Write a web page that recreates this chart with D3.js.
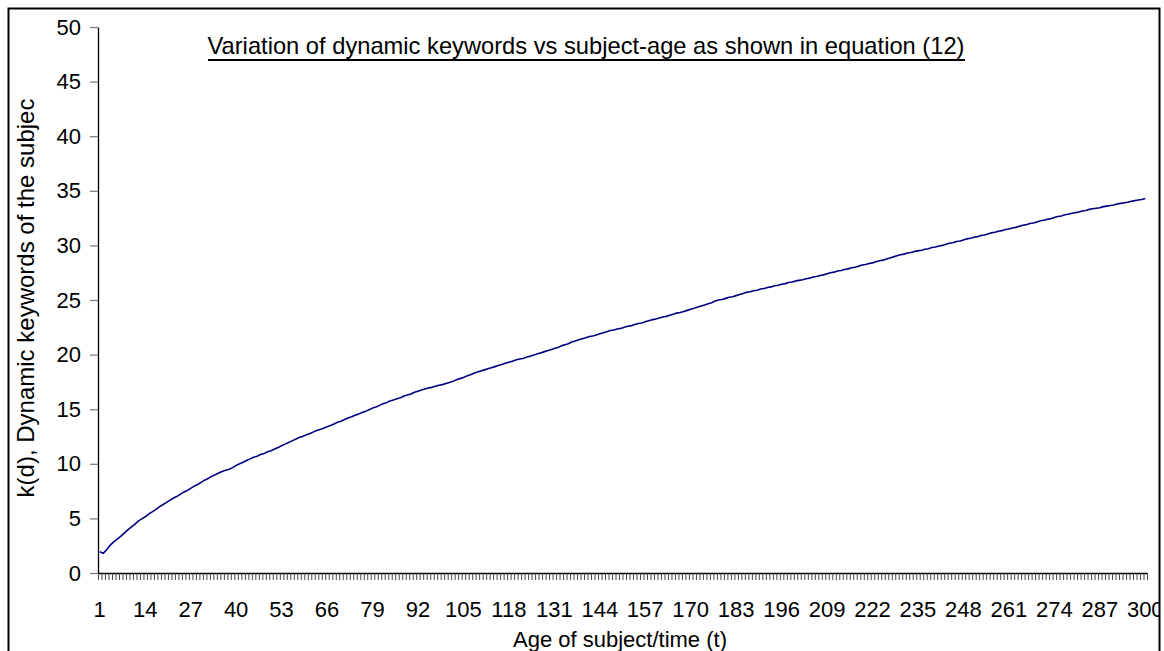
<!DOCTYPE html>
<html>
<head>
<meta charset="utf-8">
<script src="https://cdn.jsdelivr.net/npm/d3@7/dist/d3.min.js"></script>
<style>
  html, body { margin: 0; padding: 0; background: #fff; }
  svg { display: block; font-family: "Liberation Sans", Arial, sans-serif; }
</style>
</head>
<body>
<script>
// ---- data ----
const categories = d3.range(1, 301); // age of subject / time t = 1..300
const keywords = [
  1.95, 1.80, 2.15, 2.55, 2.85, 3.10, 3.35, 3.65, 3.95, 4.20,
  4.45, 4.75, 4.95, 5.15, 5.40, 5.60, 5.80, 6.05, 6.25, 6.45,
  6.65, 6.85, 7.00, 7.20, 7.40, 7.55, 7.75, 7.95, 8.10, 8.30,
  8.50, 8.65, 8.85, 9.00, 9.15, 9.30, 9.40, 9.50, 9.65, 9.85,
  10.00, 10.15, 10.30, 10.45, 10.60, 10.70, 10.85, 10.95, 11.10, 11.20,
  11.35, 11.50, 11.65, 11.80, 11.95, 12.10, 12.25, 12.40, 12.50, 12.65,
  12.75, 12.90, 13.05, 13.15, 13.25, 13.40, 13.50, 13.65, 13.80, 13.90,
  14.05, 14.20, 14.30, 14.45, 14.55, 14.70, 14.80, 14.95, 15.10, 15.20,
  15.35, 15.50, 15.60, 15.75, 15.85, 15.95, 16.05, 16.20, 16.30, 16.40,
  16.55, 16.65, 16.75, 16.85, 16.95, 17.00, 17.10, 17.20, 17.25, 17.35,
  17.45, 17.55, 17.70, 17.80, 17.90, 18.05, 18.15, 18.30, 18.40, 18.50,
  18.60, 18.70, 18.80, 18.90, 19.00, 19.10, 19.20, 19.30, 19.40, 19.50,
  19.60, 19.65, 19.75, 19.85, 19.95, 20.05, 20.15, 20.25, 20.35, 20.45,
  20.55, 20.65, 20.80, 20.90, 21.00, 21.15, 21.25, 21.35, 21.45, 21.55,
  21.65, 21.70, 21.80, 21.90, 22.00, 22.10, 22.20, 22.25, 22.35, 22.40,
  22.50, 22.60, 22.65, 22.75, 22.85, 22.90, 23.00, 23.10, 23.20, 23.25,
  23.35, 23.45, 23.50, 23.60, 23.70, 23.80, 23.85, 23.95, 24.05, 24.15,
  24.25, 24.35, 24.45, 24.55, 24.65, 24.75, 24.90, 25.00, 25.05, 25.15,
  25.25, 25.30, 25.40, 25.50, 25.60, 25.70, 25.75, 25.85, 25.90, 26.00,
  26.05, 26.15, 26.20, 26.30, 26.35, 26.45, 26.50, 26.60, 26.65, 26.75,
  26.80, 26.85, 26.95, 27.00, 27.10, 27.15, 27.25, 27.30, 27.40, 27.50,
  27.55, 27.65, 27.70, 27.80, 27.85, 27.95, 28.00, 28.10, 28.20, 28.25,
  28.35, 28.40, 28.50, 28.60, 28.65, 28.75, 28.85, 28.95, 29.05, 29.15,
  29.20, 29.30, 29.35, 29.45, 29.50, 29.55, 29.65, 29.70, 29.80, 29.85,
  29.95, 30.00, 30.10, 30.20, 30.25, 30.35, 30.40, 30.50, 30.60, 30.65,
  30.75, 30.80, 30.90, 30.95, 31.05, 31.15, 31.20, 31.30, 31.35, 31.45,
  31.50, 31.60, 31.65, 31.75, 31.85, 31.90, 32.00, 32.05, 32.15, 32.25,
  32.30, 32.40, 32.45, 32.55, 32.65, 32.70, 32.80, 32.85, 32.95, 33.00,
  33.05, 33.15, 33.20, 33.30, 33.35, 33.40, 33.45, 33.55, 33.60, 33.65,
  33.70, 33.80, 33.85, 33.90, 33.95, 34.05, 34.10, 34.15, 34.20, 34.30
];
const yTicks = [0, 5, 10, 15, 20, 25, 30, 35, 40, 45, 50];
const xTickLabels = d3.range(1, 301, 13); // 1, 14, 27, ... 300

const titleText = "Variation of dynamic keywords vs subject-age as shown in equation (12)";
const xTitle = "Age of subject/time (t)";
const yTitle = "k(d), Dynamic keywords of the subjec";

// ---- layout ----
const W = 1164, H = 651;
const plot = { left: 98, right: 1147, top: 27, bottom: 573 };

const svg = d3.select("body").append("svg")
  .attr("width", W).attr("height", H);

svg.append("defs").append("clipPath").attr("id", "frame")
  .append("rect").attr("x", 8).attr("y", 8).attr("width", 1152).attr("height", 660);

const g = svg.append("g").attr("clip-path", "url(#frame)");

const x = d3.scaleBand().domain(categories).range([plot.left, plot.right]).padding(0);
const xEdge = d3.scaleLinear().domain([0, categories.length]).range([plot.left, plot.right]);
const y = d3.scaleLinear().domain([0, 50]).range([plot.bottom, plot.top]);

// y axis
const yAxis = g.append("g")
  .attr("transform", `translate(${plot.left},0)`)
  .call(d3.axisLeft(y).tickValues(yTicks).tickSize(8).tickPadding(9).tickSizeOuter(0));
yAxis.select(".domain").attr("stroke", "#000").attr("stroke-width", 1.3);
yAxis.selectAll(".tick line").attr("stroke", "#777").attr("stroke-width", 1.2);
yAxis.selectAll(".tick text").attr("font-size", 22).attr("fill", "#000")
  .attr("font-family", "'Liberation Sans', Arial, sans-serif");

// x axis: tick marks at every category boundary
const xTicksAxis = g.append("g")
  .attr("transform", `translate(0,${plot.bottom})`)
  .call(d3.axisBottom(xEdge).tickValues(d3.range(0, categories.length + 1))
    .tickSize(7).tickFormat("").tickSizeOuter(0));
xTicksAxis.select(".domain").attr("stroke", "#000").attr("stroke-width", 1.3);
xTicksAxis.selectAll(".tick line").attr("stroke", "#333").attr("stroke-width", 0.9);

// x axis labels every 13 categories
const xLabelAxis = g.append("g")
  .attr("transform", `translate(0,${plot.bottom})`)
  .call(d3.axisBottom(x).tickValues(xTickLabels).tickSize(0).tickPadding(28));
xLabelAxis.select(".domain").remove();
xLabelAxis.selectAll(".tick text").attr("font-size", 22).attr("fill", "#000")
  .attr("font-family", "'Liberation Sans', Arial, sans-serif");

// line
const line = d3.line()
  .x((d, i) => x(categories[i]) + x.bandwidth() / 2)
  .y(d => y(d));
g.append("path").datum(keywords)
  .attr("d", line)
  .attr("fill", "none")
  .attr("stroke", "#000080")
  .attr("stroke-width", 1.6)
  .attr("stroke-linejoin", "round");

// title
const title = g.append("text")
  .attr("x", 586).attr("y", 54)
  .attr("text-anchor", "middle")
  .attr("font-family", "'Liberation Sans Narrow', 'Liberation Sans', Arial, sans-serif")
  .attr("font-size", 24)
  .attr("textLength", 757)
  .attr("lengthAdjust", "spacingAndGlyphs")
  .attr("fill", "#000")
  .text(titleText);
g.append("line")
  .attr("x1", 208).attr("x2", 965).attr("y1", 60).attr("y2", 60)
  .attr("stroke", "#000").attr("stroke-width", 2);

// axis titles
g.append("text")
  .attr("x", 620).attr("y", 647)
  .attr("text-anchor", "middle")
  .attr("font-size", 22)
  .attr("fill", "#000")
  .text(xTitle);

g.append("text")
  .attr("transform", "translate(34,298) rotate(-90)")
  .attr("text-anchor", "middle")
  .attr("font-size", 24)
  .attr("fill", "#000")
  .text(yTitle);

// chart area border
svg.append("rect")
  .attr("x", 8.5).attr("y", 8.5).attr("width", 1151).attr("height", 660)
  .attr("fill", "none").attr("stroke", "#000").attr("stroke-width", 2);
</script>
</body>
</html>
